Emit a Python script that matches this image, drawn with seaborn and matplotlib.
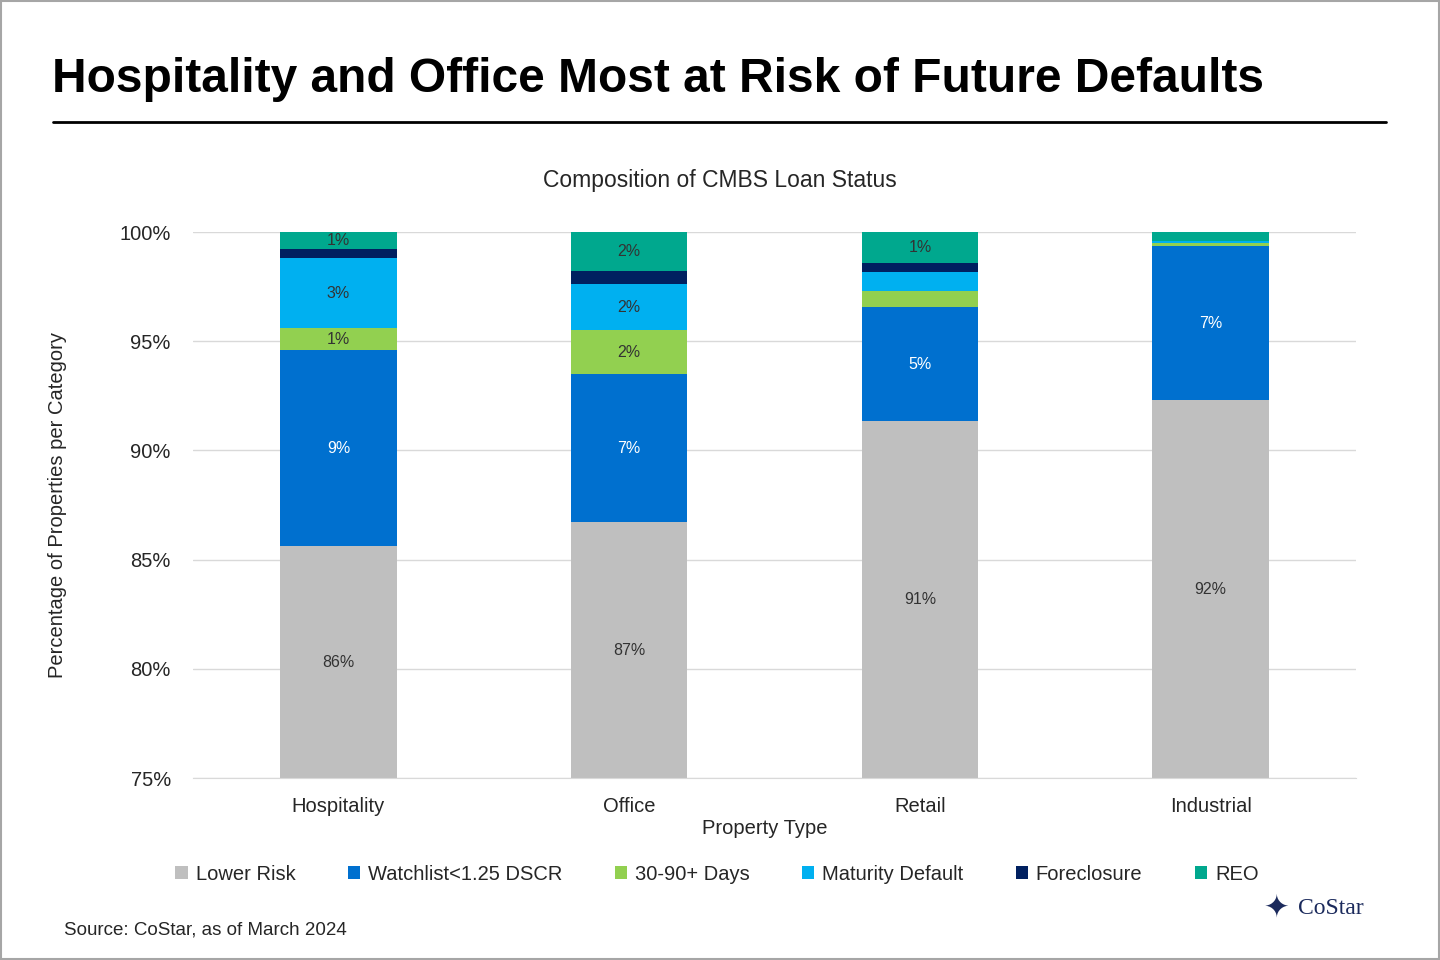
import numpy as np
import pandas as pd
import matplotlib
matplotlib.use("Agg")
import matplotlib.pyplot as plt
import seaborn as sns

categories = ["Hospitality", "Office", "Retail", "Industrial"]
series = ["Lower Risk", "Watchlist<1.25 DSCR", "30-90+ Days", "Maturity Default", "Foreclosure", "REO"]
lower_risk = [85.6, 86.7, 91.35, 92.3]
watchlist = [9.0, 6.8, 5.2, 7.05]
days_30_90 = [1.0, 2.0, 0.75, 0.15]
maturity = [3.2, 2.1, 0.85, 0.1]
foreclosure = [0.4, 0.6, 0.45, 0.0]
reo = [0.8, 1.8, 1.4, 0.4]
labels = [
    ["86%", "87%", "91%", "92%"],
    ["9%", "7%", "5%", "7%"],
    ["1%", "2%", "", ""],
    ["3%", "2%", "", ""],
    ["", "", "", ""],
    ["1%", "2%", "1%", ""],
]
colors = ["#bfbfbf", "#0070cf", "#92d050", "#00b0f0", "#002060", "#00a88e"]
text_colors = ["#333333", "white", "#333333", "#333333", "white", "#333333"]

sns.set_style("white")
plt.rcParams["font.family"] = ["Arial", "Liberation Sans", "DejaVu Sans"]

fig = plt.figure(figsize=(14.4, 9.6), dpi=100)
ax = fig.add_axes([193 / 1440, 1 - 778 / 960, (1356 - 193) / 1440, (778 - 232) / 960])
ymin = 75

values = [lower_risk, watchlist, days_30_90, maturity, foreclosure, reo]
bottom = np.zeros(len(categories))
for name, vals, col, labs, tc in zip(series, values, colors, labels, text_colors):
    df = pd.DataFrame({"cat": categories, "val": vals})
    sns.barplot(data=df, x="cat", y="val", color=col, bottom=bottom, width=0.4,
                ax=ax, label=name, saturation=1, linewidth=0)
    for i, (v, lab) in enumerate(zip(vals, labs)):
        if lab:
            lo = max(bottom[i], ymin)
            ax.text(i, (lo + bottom[i] + v) / 2, lab, ha="center", va="center",
                    fontsize=11.5, color=tc)
    bottom = bottom + np.array(vals)

ax.set_ylim(ymin, 100)
ax.set_yticks(range(75, 101, 5))
ax.set_yticklabels([f"{t}%" for t in range(75, 101, 5)], fontsize=14.5)
ax.tick_params(axis="x", labelsize=14.5, length=0, pad=14)
ax.tick_params(axis="y", length=0, pad=16)
ax.yaxis.grid(True, color="#d9d9d9", linewidth=1)
ax.set_axisbelow(True)
for s in ["top", "right", "left"]:
    ax.spines[s].set_visible(False)
ax.spines["bottom"].set_color("#d9d9d9")
ax.set_xlabel("Property Type", fontsize=14.5, labelpad=4)
ax.xaxis.set_label_coords((765 - 193) / (1356 - 193), -0.075)
ax.set_ylabel("Percentage of Properties per Category", fontsize=14.5)
ax.yaxis.set_label_coords(-0.108, 0.5)
fig.text(720 / 1440, 1 - 181 / 960, "Composition of CMBS Loan Status", fontsize=16.5,
         ha="center", va="center")

ax.legend(loc="center", bbox_to_anchor=((717 - 193) / (1356 - 193), -(874 - 778) / (778 - 232)),
          ncol=6, frameon=False, fontsize=14.5, handlelength=0.6, handleheight=0.6,
          columnspacing=2.6, handletextpad=0.4)

fig.text(52 / 1440, 1 - 80 / 960, "Hospitality and Office Most at Risk of Future Defaults",
         fontsize=34.5, fontweight="bold", va="center", color="black")
fig.add_artist(plt.Line2D([53 / 1440, 1386 / 1440], [1 - 122 / 960] * 2, color="black", linewidth=2))
fig.text(64 / 1440, 1 - 930 / 960, "Source: CoStar, as of March 2024", fontsize=13.5, va="center")
fig.text(1298 / 1440, 1 - 908 / 960, "CoStar", fontsize=17, va="center",
         family=["Liberation Serif", "DejaVu Serif"], color="#1b2a5c")
fig.text(1276 / 1440, 1 - 908 / 960, "\u2726", fontsize=22, va="center", ha="center", color="#1b2a5c")
fig.add_artist(plt.Rectangle((0.001, 0.001), 0.998, 0.998, fill=False, edgecolor="#a6a6a6",
                             linewidth=1.5, transform=fig.transFigure))

fig.savefig("out.png", dpi=100)
